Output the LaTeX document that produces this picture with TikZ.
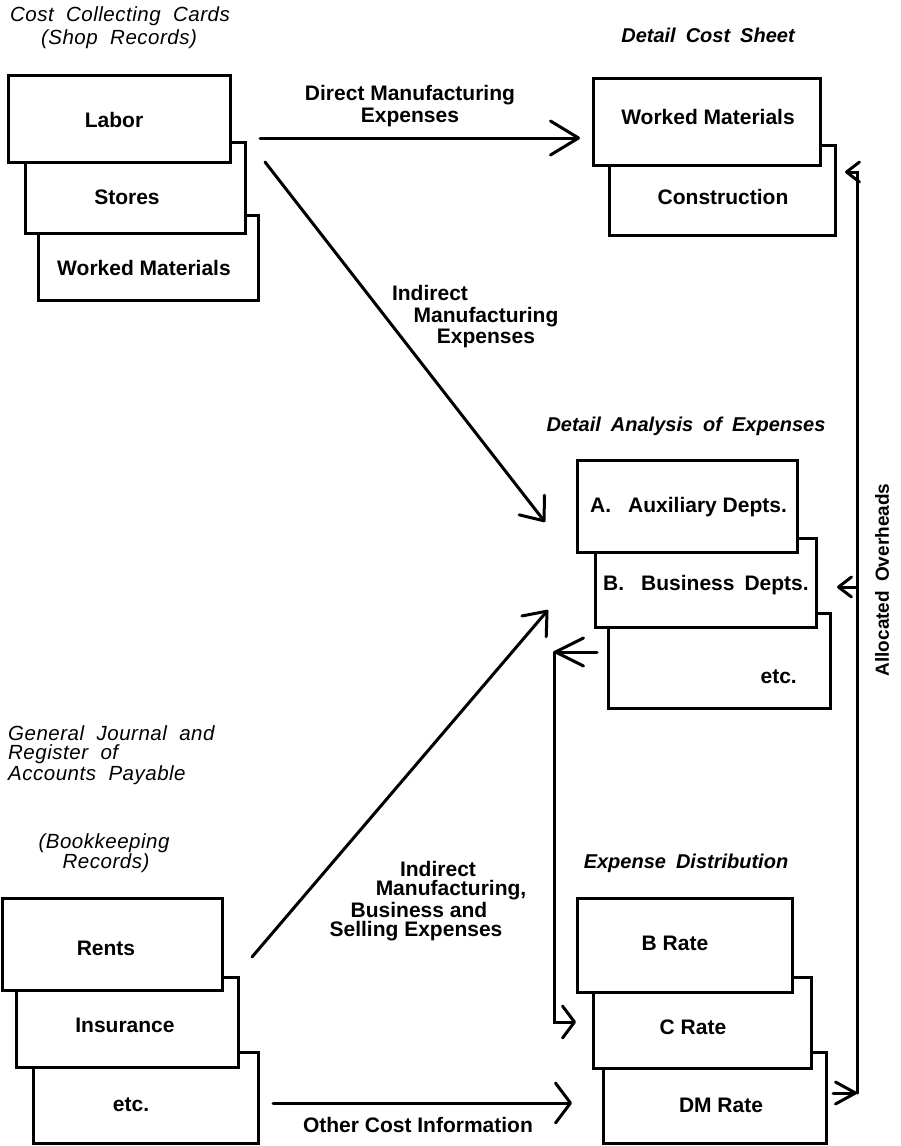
\documentclass[tikz,border=0pt]{standalone}
\usepackage{fontspec}
\setmainfont{Liberation Sans}
\newfontfamily\ilab[LetterSpace=2.5,WordSpace=2.0]{Liberation Sans}
\newfontfamily\blab[WordSpace=1.8]{Liberation Sans}
\usetikzlibrary{arrows.meta}
\begin{document}
\begin{tikzpicture}[x=1pt,y=-1pt,
  card/.style={draw, line width=3pt, fill=white, inner sep=0pt, outer sep=0pt},
  txt/.style={font=\fontsize{21}{25}\selectfont\bfseries, inner sep=0pt},
  itl/.style={font=\fontsize{20.5}{24}\selectfont\ilab\itshape, inner sep=0pt},
  bitl/.style={font=\fontsize{20}{24}\selectfont\blab\bfseries\itshape, inner sep=0pt},
  conn/.style={line width=3pt, line cap=round, line join=miter},
  tipA/.style={-{Straight Barb[length=28pt,width=34pt,round]}},
  tipB/.style={-{Straight Barb[length=20pt,width=32pt,round]}},
  tipC/.style={-{Straight Barb[length=15pt,width=40pt,round]}},
  tipD/.style={-{Straight Barb[length=28pt,width=28pt,round]}},
  tipE/.style={-{Straight Barb[length=12pt,width=32pt,round]}},
  tipS/.style={-{Straight Barb[length=13pt,width=20pt,round]}},
  tipF/.style={-{Straight Barb[length=20pt,width=22pt,round]}}
]
\useasboundingbox (0,0) rectangle (901,1146);

% ---------- top-left stack: Cost Collecting Cards ----------
\node[card, minimum width=220pt, minimum height=85pt] (wmA) at (148,257.5) {};
\node[card, minimum width=220pt, minimum height=91pt] (stores) at (135,187.5) {};
\node[card, minimum width=222pt, minimum height=87pt] (labor) at (119,118.5) {};
\node[txt] (tlabor) at (114,120) {Labor};
\node[txt] (tstores) at (127,197) {Stores};
\node[txt] (twmA) at (144,268) {Worked Materials};
\node[itl] (lcc1) at (120,16) {Cost Collecting Cards};
\node[itl] (lcc2) at (119,39) {(Shop Records)};

% ---------- top-right stack: Detail Cost Sheet ----------
\node[card, minimum width=226pt, minimum height=90pt] (constr) at (722,190) {};
\node[card, minimum width=227pt, minimum height=87pt] (dwm) at (706.5,121.5) {};
\node[txt] (tdwm) at (708,117) {Worked Materials};
\node[txt] (tconstr) at (723,197) {Construction};
\node[bitl] (ldcs) at (708,35) {Detail Cost Sheet};

% ---------- middle-right stack: Detail Analysis of Expenses ----------
\node[card, minimum width=222pt, minimum height=95pt] (etcM) at (719,660.5) {};
\node[card, minimum width=221pt, minimum height=89pt] (busB) at (705.5,582.5) {};
\node[card, minimum width=220pt, minimum height=92pt] (auxA) at (687,506) {};
\node[txt, anchor=west] (tauxA) at (590,507) {A.\hspace{17pt}Auxiliary Depts.};
\node[txt, anchor=west] (tbusB) at (603,585) {B.\hspace{17pt}Business\hspace{10pt}Depts.};
\node[txt, anchor=east] (tetcM) at (797,677) {etc.};
\node[bitl] (ldae) at (686,426) {Detail Analysis of Expenses};

% ---------- bottom-right stack: Expense Distribution ----------
\node[card, minimum width=223pt, minimum height=91pt] (dmrate) at (714.5,1097.5) {};
\node[card, minimum width=218pt, minimum height=91pt] (crate) at (702,1022.5) {};
\node[card, minimum width=215pt, minimum height=94pt] (brate) at (684.5,945) {};
\node[txt] (tbrate) at (675,943) {B Rate};
\node[txt] (tcrate) at (693,1027) {C Rate};
\node[txt] (tdmrate) at (721,1105) {DM Rate};
\node[bitl] (led) at (686,863) {Expense Distribution};

% ---------- bottom-left stack: Bookkeeping Records ----------
\node[card, minimum width=225pt, minimum height=91pt] (etcL) at (145.5,1097.5) {};
\node[card, minimum width=222pt, minimum height=90pt] (ins) at (127,1022) {};
\node[card, minimum width=220pt, minimum height=92pt] (rents) at (112,944) {};
\node[txt] (trents) at (106,948) {Rents};
\node[txt] (tins) at (125,1025) {Insurance};
\node[txt] (tetcL) at (131,1105) {etc.};
\node[itl, anchor=west] (lgj1) at (8,733) {General Journal and};
\node[itl, anchor=west] (lgj2) at (8,754) {Register of};
\node[itl, anchor=west] (lgj3) at (8,775) {Accounts Payable};
\node[itl] (lbk1) at (104,843) {(Bookkeeping};
\node[itl] (lbk2) at (106,863) {Records)};

% ---------- connector labels ----------
\node[txt] (ldm1) at (410,95) {Direct Manufacturing};
\node[txt] (ldm2) at (410,117) {Expenses};
\node[txt] (lim1) at (430,293) {Indirect};
\node[txt] (lim2) at (486,317) {Manufacturing};
\node[txt] (lim3) at (486,338) {Expenses};
\node[txt] (lib1) at (438,869) {Indirect};
\node[txt] (lib2) at (451,890) {Manufacturing,};
\node[txt] (lib3) at (419,910) {Business and};
\node[txt] (lib4) at (416,931) {Selling Expenses};
\node[txt] (loci) at (418,1125) {Other Cost Information};
\node[font=\fontsize{19}{23}\selectfont\bfseries, inner sep=0pt, rotate=90] (lao) at (882,580) {Allocated\hspace{9pt}Overheads};

% ---------- connector end points ----------
\coordinate (dmS) at (260,138);
\coordinate (dmE) at (580,138);
\coordinate (imS) at (265,162);
\coordinate (imE) at (545,522);
\coordinate (rnS) at (252,957);
\coordinate (rnE) at (548,610);
\coordinate (ocS) at (273,1103);
\coordinate (ocE) at (572,1103);
\coordinate (lqS) at (597,652);
\coordinate (lqT) at (554,652);
\coordinate (lqB) at (554,1022);
\coordinate (lqE) at (576,1022);
\coordinate (rqS) at (833,1093);
\coordinate (rqB) at (857,1093);
\coordinate (rqT) at (857,172);
\coordinate (rqE) at (845,172);
\coordinate (rqM) at (857,587);
\coordinate (rqN) at (837,587);

% ---------- connectors ----------
\draw[conn, tipA] (dmS) -- (dmE);
\draw[conn, tipB] (imS) -- (imE);
\draw[conn, tipB] (rnS) -- (rnE);
\draw[conn, tipC] (ocS) -- (ocE);
\draw[conn, tipD] (lqS) -- (lqT);
\draw[conn, tipE] (lqT) -- (lqB) -- (lqE);
\draw[conn, tipF] (rqS) -- (rqB);
\draw[conn, tipS] (rqB) -- (rqT) -- (rqE);
\draw[conn, tipS] (rqM) -- (rqN);
\end{tikzpicture}
\end{document}
